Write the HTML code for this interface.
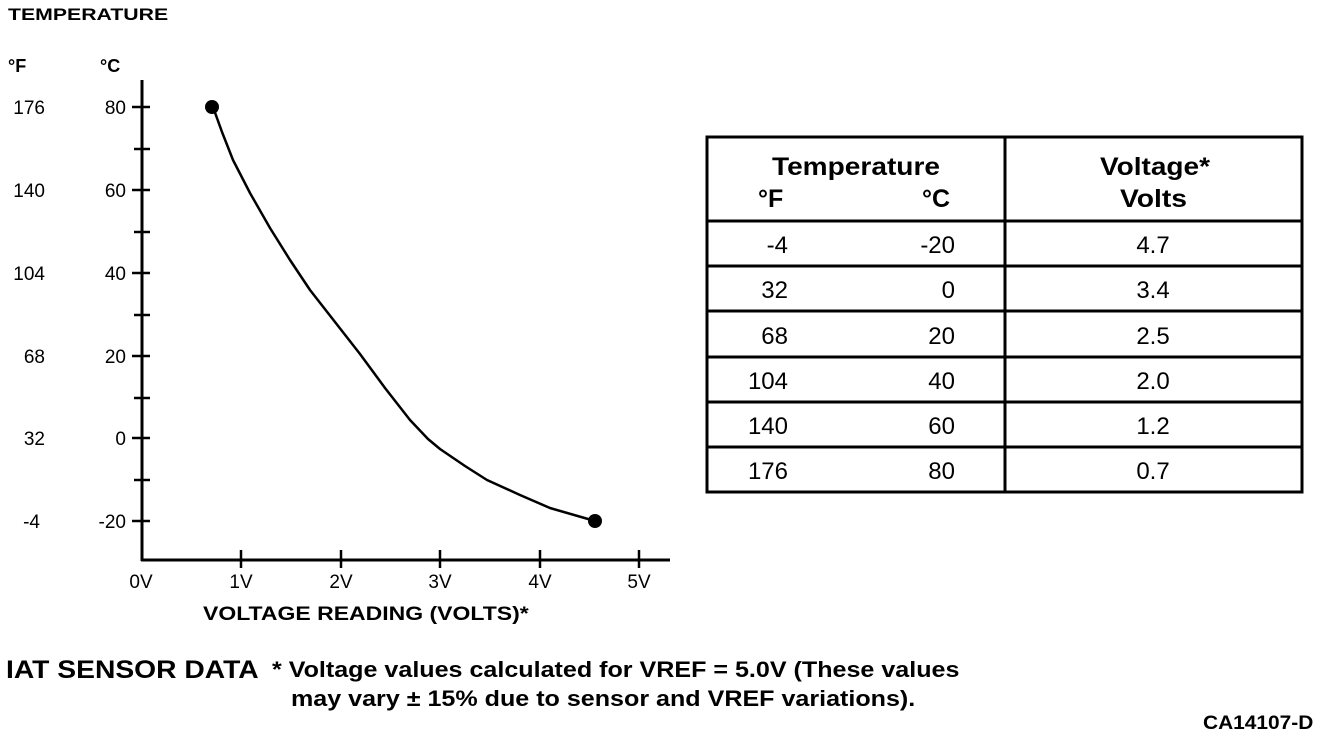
<!DOCTYPE html>
<html><head><style>
body{margin:0;background:#fff;width:1344px;height:740px;overflow:hidden;position:relative;font-family:"Liberation Sans",Arial,sans-serif;color:#000}
.t{position:absolute;white-space:nowrap;transform-origin:0 0}
.b{font-weight:bold}
</style></head><body>
<div class="t b" style="left:8px;top:5px;font-size:17px;transform:scaleX(1.25)">TEMPERATURE</div>
<svg width="1344" height="740" style="position:absolute;left:0;top:0" font-family="Liberation Sans, Arial, sans-serif">
<g stroke="#000" stroke-width="3" fill="none">
<line x1="142" y1="80" x2="142" y2="561"/>
<line x1="141" y1="560" x2="670" y2="560"/>
<g stroke-width="2.5">
<line x1="132" y1="107" x2="150" y2="107"/><line x1="134" y1="149" x2="150" y2="149"/>
<line x1="132" y1="190" x2="150" y2="190"/><line x1="134" y1="232" x2="150" y2="232"/>
<line x1="132" y1="273" x2="150" y2="273"/><line x1="134" y1="315" x2="150" y2="315"/>
<line x1="132" y1="356" x2="150" y2="356"/><line x1="134" y1="398" x2="150" y2="398"/>
<line x1="132" y1="438" x2="150" y2="438"/><line x1="134" y1="480" x2="150" y2="480"/>
<line x1="132" y1="521" x2="150" y2="521"/>
<line x1="241" y1="550" x2="241" y2="568"/><line x1="341" y1="550" x2="341" y2="568"/>
<line x1="440" y1="550" x2="440" y2="568"/><line x1="540" y1="550" x2="540" y2="568"/>
<line x1="639" y1="550" x2="639" y2="568"/>
</g>
<polyline stroke-width="2.5" stroke-linejoin="round" points="213,107 222,132 233,160 250,193 270,228 290,260 310,290 335,322 360,354 385,388 410,420 428,439 440,449 465,466 487,480 520,495 550,508 595,521"/>
</g>
<circle cx="212" cy="107" r="7"/><circle cx="595" cy="521" r="7"/>
<g font-size="19" text-anchor="end">
<text x="126" y="114">80</text><text x="126" y="197">60</text><text x="126" y="280">40</text>
<text x="126" y="363">20</text><text x="126" y="445">0</text><text x="126" y="528">-20</text>
<text x="45" y="114">176</text><text x="45" y="197">140</text><text x="45" y="280">104</text>
<text x="45" y="363">68</text><text x="45" y="445">32</text><text x="40" y="528">-4</text>
</g>
<g font-size="19" text-anchor="middle">
<text x="141" y="588">0V</text><text x="241" y="588">1V</text><text x="341" y="588">2V</text>
<text x="440" y="588">3V</text><text x="540" y="588">4V</text><text x="639" y="588">5V</text>
</g>
<text x="8" y="72" font-size="18" font-weight="bold">°F</text>
<text x="100" y="72" font-size="18" font-weight="bold">°C</text>
<g stroke="#000" stroke-width="3" fill="none">
<rect x="707" y="137" width="595" height="355"/>
<line x1="1005" y1="137" x2="1005" y2="492"/>
<line x1="707" y1="221" x2="1302" y2="221"/>
<line x1="707" y1="266" x2="1302" y2="266"/>
<line x1="707" y1="311" x2="1302" y2="311"/>
<line x1="707" y1="357" x2="1302" y2="357"/>
<line x1="707" y1="402" x2="1302" y2="402"/>
<line x1="707" y1="447" x2="1302" y2="447"/>
</g>
<g font-size="25" font-weight="bold">
<text x="772" y="175" textLength="168" lengthAdjust="spacingAndGlyphs">Temperature</text>
<text x="1100" y="175" textLength="110" lengthAdjust="spacingAndGlyphs">Voltage*</text>
<text x="1120" y="207" textLength="67" lengthAdjust="spacingAndGlyphs">Volts</text>
<text x="758" y="207">°F</text><text x="922" y="207">°C</text>
</g>
<g font-size="24" text-anchor="end">
<text x="788" y="253">-4</text><text x="955" y="253">-20</text>
<text x="788" y="298">32</text><text x="955" y="298">0</text>
<text x="788" y="344">68</text><text x="955" y="344">20</text>
<text x="788" y="389">104</text><text x="955" y="389">40</text>
<text x="788" y="434">140</text><text x="955" y="434">60</text>
<text x="788" y="479">176</text><text x="955" y="479">80</text>
</g>
<g font-size="24" text-anchor="middle">
<text x="1153" y="253">4.7</text><text x="1153" y="298">3.4</text><text x="1153" y="344">2.5</text>
<text x="1153" y="389">2.0</text><text x="1153" y="434">1.2</text><text x="1153" y="479">0.7</text>
</g>
</svg>
<div class="t b" style="left:203px;top:604px;font-size:19px;transform:scaleX(1.21)">VOLTAGE READING (VOLTS)*</div>
<div class="t b" style="left:6px;top:656px;font-size:25px;transform:scaleX(1.13)">IAT SENSOR DATA</div>
<div class="t b" style="left:272px;top:657px;font-size:22px;transform:scaleX(1.14)">* Voltage values calculated for VREF = 5.0V (These values</div>
<div class="t b" style="left:291px;top:686px;font-size:22px;transform:scaleX(1.14)">may vary ± 15% due to sensor and VREF variations).</div>
<div class="t b" style="left:1203px;top:713px;font-size:19px;transform:scaleX(1.1)">CA14107-D</div>
</body></html>
